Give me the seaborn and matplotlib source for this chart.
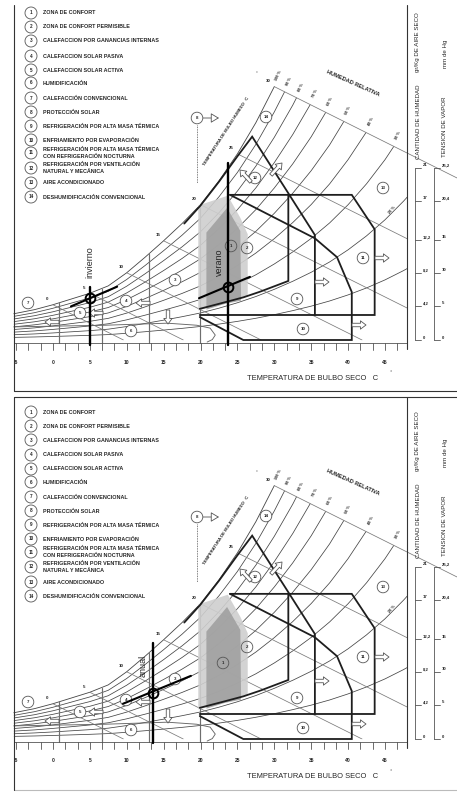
import numpy as np
import pandas as pd
import matplotlib
matplotlib.use("Agg")
import matplotlib.pyplot as plt
import matplotlib.transforms as mtrans
from matplotlib.patches import Circle, Polygon, FancyArrowPatch
import seaborn as sns

# saturation curve (100 % HR): dry bulb C -> g/kg dry air
sat_t = [-5.3, -2.5, 0, 2.5, 5, 7.5, 10, 12.5, 15, 17.5, 20, 22.5, 25, 27.5, 30,
         32.5, 35, 37.5, 40, 42.5, 45, 47.5, 50]
sat_w = [3.2, 3.7, 4.3, 5.0, 5.7, 6.6, 8.2, 10.1, 12.1, 14.2, 16.5, 19.4, 22.7, 26.5, 30.9,
         35.8, 41.3, 47.6, 55.0, 63.5, 73.3, 84.6, 97.0]
rh_levels = [10, 20, 30, 40, 50, 60, 70, 80, 90]
rh_top_labels = [100, 90, 80, 70, 60, 50, 40, 30]
wb_temps = [0, 5, 10, 15, 20, 25, 30]
wb_slope = -0.45          # g/kg per C along a wet bulb line
t_max = 48.0              # right edge of the chart
heat_limits = [0.8, 6.6, 13.0, 20.0]
x_ticks = [-5, 0, 5, 10, 15, 20, 25, 30, 35, 40, 45]
gkg_ticks = [0, 4.2, 8.2, 12.2, 17, 21]
gkg_labels = ["0", "4,2", "8,2", "12,2", "17", "21"]
mmhg_labels = ["0", "5", "10", "15", "20,4", "25,2"]

# zones (dry bulb C, g/kg)
zone1_t = [20.8, 23.6, 25.4, 25.5, 23.3, 20.8]
zone1_w = [13.1, 16.1, 13.3, 4.8, 4.4, 3.7]
zone2_t = [19.7, 23.7, 25.4, 26.4, 26.4, 23.3, 19.7]
zone2_w = [16.4, 17.6, 14.9, 12.9, 5.3, 4.5, 3.6]
vent_t = [17.8, 20.0, 22.5, 25.0, 27.0, 31.9, 35.5, 35.5]
vent_w = [14.2, 16.4, 19.3, 22.4, 24.8, 17.9, 12.8, 3.05]
night_t = [24.0, 40.5, 43.6, 43.6, 19.9]
night_w = [17.7, 17.7, 13.5, 3.05, 3.05]
mass_t = [31.9, 31.9, 28.1, 25.8, 23.3, 19.9]
mass_w = [17.7, 7.2, 5.9, 5.2, 4.6, 3.8]
evap_t = [24.0, 35.5, 38.5, 40.5, 40.5, 25.8, 19.9]
evap_w = [17.7, 12.4, 10.1, 5.85, 0.0, 0.0, 2.8]
humid_t = [-5.3, 7.0, 15.5, 19.5, 21.3, 22.0, 21.6, 20.9]
humid_w = [1.6, 1.8, 2.05, 1.8, 1.45, 0.6, 0.05, -0.25]

# climate of the site: mean point, spread line and humidity range
seasons_top = {
    "invierno": dict(t=5.0, w=5.1, line_t=[2.45, 8.7], line_w=[4.1, 6.5], v_w=[-0.6, 6.5], lab=(90, 262)),
    "verano": dict(t=23.7, w=6.5, line_t=[19.8, 26.7], line_w=[5.1, 7.7], v_w=[-0.6, 21.6], lab=(219, 262)),
}
seasons_bottom = {
    "anual": dict(t=13.6, w=5.6, line_t=[9.5, 18.7], line_w=[4.3, 7.7], v_w=[-0.5, 11.7], lab=(143, 267)),
}

legend_items = [
    "ZONA DE CONFORT", "ZONA DE CONFORT PERMISIBLE", "CALEFACCION POR GANANCIAS INTERNAS",
    "CALEFACCION SOLAR PASIVA", "CALEFACCION SOLAR ACTIVA", "HUMIDIFICACIÓN",
    "CALEFACCIÓN CONVENCIONAL", "PROTECCIÓN SOLAR", "REFRIGERACIÓN POR ALTA MASA TÉRMICA",
    "ENFRIAMIENTO POR EVAPORACIÓN",
    "REFRIGERACIÓN POR ALTA MASA TÉRMICA\nCON REFRIGERACIÓN NOCTURNA",
    "REFRIGERACIÓN POR VENTILACIÓN\nNATURAL Y MECÁNICA",
    "AIRE ACONDICIONADO", "DESHUMIDIFICACIÓN CONVENCIONAL",
]

sns.set_theme(style="white")
plt.rcParams["font.family"] = ["Liberation Sans", "DejaVu Sans"]

W, H, PH = 457, 792, 396
X0, KX = 52.9, 7.38     # pixel of 0 C, pixels per C
Y0, KY = 340.0, 8.2     # pixel of 0 g/kg, pixels per g/kg
fig = plt.figure(figsize=(W / 100, H / 100), dpi=100)
INK = "#1e1e1e"


def arrow(ax, px, a, b, fc="white"):
    ax.add_patch(FancyArrowPatch(a, b, transform=px, arrowstyle="simple,head_length=4,head_width=6,tail_width=2.5",
                                 mutation_scale=1, fc=fc, ec="#555", lw=0.6, shrinkA=0, shrinkB=0,
                                 clip_on=False, zorder=6))


def draw_panel(top_px, seasons, frame_top, marker_one):
    ax = fig.add_axes([0, (H - top_px - PH) / H, 1, PH / H])
    px = mtrans.Affine2D().scale(1 / W, -1 / PH).translate(0, 1) + ax.transAxes
    xpx = mtrans.blended_transform_factory(ax.transData, px)
    ypx = mtrans.blended_transform_factory(px, ax.transData)

    w30 = np.interp(30, sat_t, sat_w)
    w_end = w30 + wb_slope * (t_max - 30)
    st = np.array(sat_t)
    sw = np.array(sat_w)
    keep = st <= 30
    clip_xy = np.column_stack([np.r_[st[keep], t_max, t_max, st[0]], np.r_[sw[keep], w_end, -0.05, -0.05]])
    clip = Polygon(clip_xy, closed=True, transform=ax.transData)

    # relative humidity curves
    rh_df = pd.DataFrame({"rh": np.repeat(rh_levels, len(sat_t)),
                          "t": np.tile(sat_t, len(rh_levels)),
                          "w": np.outer(np.array(rh_levels) / 100, sat_w).ravel()})
    n0 = len(ax.lines)
    sns.lineplot(data=rh_df, x="t", y="w", units="rh", estimator=None, sort=False,
                 color="#444444", lw=0.55, ax=ax, legend=False)
    for ln in ax.lines[n0:]:
        ln.set_clip_path(clip)
    ax.plot(st[keep], sw[keep], color="#444444", lw=0.6)

    # wet bulb lines
    for tw in wb_temps:
        w0 = np.interp(tw, sat_t, sat_w)
        t1 = tw - w0 / wb_slope
        ln, = ax.plot([tw, t1], [w0, 0], color="#7a7a7a", lw=0.55)
        if tw < 30:
            ln.set_clip_path(clip)
        ax.text(tw - 0.8, w0 + 0.7, str(tw), fontsize=3.2, fontweight="bold", ha="center", va="center")

    # labels of the RH curves where they meet the 30 C wet bulb line
    tt = np.linspace(30, t_max, 800)
    for rh in rh_top_labels:
        diff = rh / 100 * np.interp(tt, sat_t, sat_w) - (w30 + wb_slope * (tt - 30))
        i = int(np.argmax(diff >= 0))
        ax.text(tt[i] + 0.6, w30 + wb_slope * (tt[i] - 30) + 1.3, f"{rh} %", fontsize=2.8,
                fontweight="bold", rotation=65, ha="center", va="center")
    ax.text(392, 210, "20 %", transform=px, fontsize=2.8, fontweight="bold", rotation=50, ha="center", va="center")

    # heating limits
    for tl in heat_limits:
        ax.plot([tl, tl], [-0.37, np.interp(tl, sat_t, sat_w)], color="#6e6e6e", lw=0.85)

    # comfort zones
    ax.fill(zone2_t, zone2_w, color="#cfcfcf", alpha=0.9, lw=0, zorder=3)
    ax.fill(zone1_t, zone1_w, color="#a0a0a0", alpha=0.9, lw=0, zorder=3)
    ax.plot(humid_t, humid_w, color="#666666", lw=0.65, zorder=3)
    for zt, zw in [(vent_t, vent_w), (night_t, night_w), (mass_t, mass_w), (evap_t, evap_w)]:
        ax.plot(zt, zw, color=INK, lw=1.3, zorder=4, solid_joinstyle="miter")

    # dry bulb axis
    ax.plot([sat_t[0], t_max], [-0.37, -0.37], color="#555", lw=0.6)
    ticks = np.arange(-5, t_max, 5 / 3)
    for tk in ticks:
        ax.plot([tk, tk], [343, 350], transform=xpx, color="#555", lw=0.6, clip_on=False)
    for tk in x_ticks:
        ax.text(tk, 362, str(tk), transform=xpx, fontsize=3.6, fontweight="bold", ha="center", va="center")
    ax.text(313, 378, "TEMPERATURA DE BULBO SECO   C", transform=px, fontsize=5.4, ha="center", va="center")
    ax.text(391, 373, "°", transform=px, fontsize=4, ha="center", va="center")

    # right scales
    for xs, labs in [(415, gkg_labels), (434, mmhg_labels)]:
        ax.plot([xs, xs], [gkg_ticks[0], gkg_ticks[-1]], transform=ypx, color="#555", lw=0.6)
        for v, lb in zip(gkg_ticks, labs):
            ax.plot([xs, xs + 6], [v, v], transform=ypx, color="#555", lw=0.6)
            ax.text(xs + 8, v + 0.3, lb, transform=ypx, fontsize=3.1, fontweight="bold", ha="left", va="center")
    for x, y, s in [(418, 122, "CANTIDAD DE HUMEDAD"), (418, 42, "gr/Kg DE AIRE SECO"),
                    (445, 127, "TENSION DE VAPOR"), (445, 54, "mm de Hg")]:
        ax.text(x, y, s, transform=px, fontsize=4.4, rotation=90, ha="center", va="center")

    ax.text(226, 131, "TEMPERATURA DE BULBO HUMEDO   C", transform=px, fontsize=3.1,
            fontweight="bold", rotation=57, ha="center", va="center")
    ax.text(257, 74, "°", transform=px, fontsize=3.5, ha="center", va="center")
    ax.text(353, 83, "HUMEDAD RELATIVA", transform=px, fontsize=4.1, fontweight="bold",
            rotation=-24, ha="center", va="center")

    # frame
    for seg in [((14, 14), (frame_top, 391)), ((407, 407), (frame_top, 349))]:
        ax.plot(*seg, transform=px, color="#333", lw=0.8, clip_on=False, zorder=8)
    ax.plot([14, W], [frame_top if frame_top < 0 else 391] * 2, transform=px, color="#333", lw=0.8,
            clip_on=False, zorder=8)
    if frame_top < 0:
        ax.plot([14, W], [391, 391], transform=px, color="#bbbbbb", lw=0.8, clip_on=False)

    # legend
    legend_y = [13, 27, 41, 56, 70, 83, 98, 112, 126, 140, 153, 168, 183, 197]
    for i, (txt, y) in enumerate(zip(legend_items, legend_y)):
        ax.add_patch(Circle((31, y), 6.0, transform=px, fc="white", ec="#555", lw=0.6, clip_on=False))
        ax.text(31, y, str(i + 1), transform=px, fontsize=3.3, fontweight="bold", ha="center", va="center")
        ax.text(43, y, txt, transform=px, fontsize=3.9, fontweight="bold", ha="left", va="center", linespacing=1.3)

    # zone markers on the chart
    marks = {7: (28, 303), 5: (80, 313), 4: (126, 301), 3: (175, 280), 6: (131, 331), 2: (247, 248),
             1: marker_one, 9: (297, 299), 10: (303, 329), 11: (363, 258), 12: (255, 178), 13: (383, 188),
             14: (266, 117), 8: (197, 118)}
    for n, (x, y) in marks.items():
        ax.add_patch(Circle((x, y), 5.8, transform=px, fc="white" if n not in (1, 2) else "none",
                            ec="#555", lw=0.6, zorder=5))
        ax.text(x, y, str(n), transform=px, fontsize=3.2, fontweight="bold", ha="center", va="center", zorder=5)
    ax.plot([197, 197], [125, 183], transform=px, color="#555", lw=0.6, ls=(0, (1, 1)))
    ax.add_patch(FancyArrowPatch((203, 118), (219, 118), transform=px, arrowstyle="-|>,head_length=0.5,head_width=0.3",
                                 mutation_scale=10, fc="white", ec="#555", lw=0.6, shrinkA=0, shrinkB=0))

    for a, b in [((150, 303), (136, 303)), ((103, 313), (89, 313)), ((59, 322), (45, 322)),
                 ((168, 310), (168, 324)), ((315, 282), (329, 282)), ((375, 258), (389, 258)),
                 ((352, 325), (366, 325)), ((271, 175), (282, 163)), ((251, 182), (240, 170))]:
        arrow(ax, px, a, b)

    # site climate
    for name, s in seasons.items():
        ax.plot([s["t"], s["t"]], s["v_w"], color="black", lw=1.7, zorder=7)
        ax.plot(s["line_t"], s["line_w"], color="black", lw=1.5, zorder=7)
        ax.plot([s["t"]], [s["w"]], marker="o", ms=7, mfc="none", mec="black", mew=1.4, zorder=7)
        ax.text(*s["lab"], name, transform=px, fontsize=6.5, rotation=90, ha="center", va="center", zorder=7)

    ax.set_xlim(-X0 / KX, (W - X0) / KX)
    ax.set_ylim((Y0 - PH) / KY, Y0 / KY)
    ax.set_axis_off()
    return ax


draw_panel(0, seasons_top, 5, (231, 246))
draw_panel(399, seasons_bottom, -2, (223, 264))

fig.savefig("out.png", dpi=100, facecolor="white")
